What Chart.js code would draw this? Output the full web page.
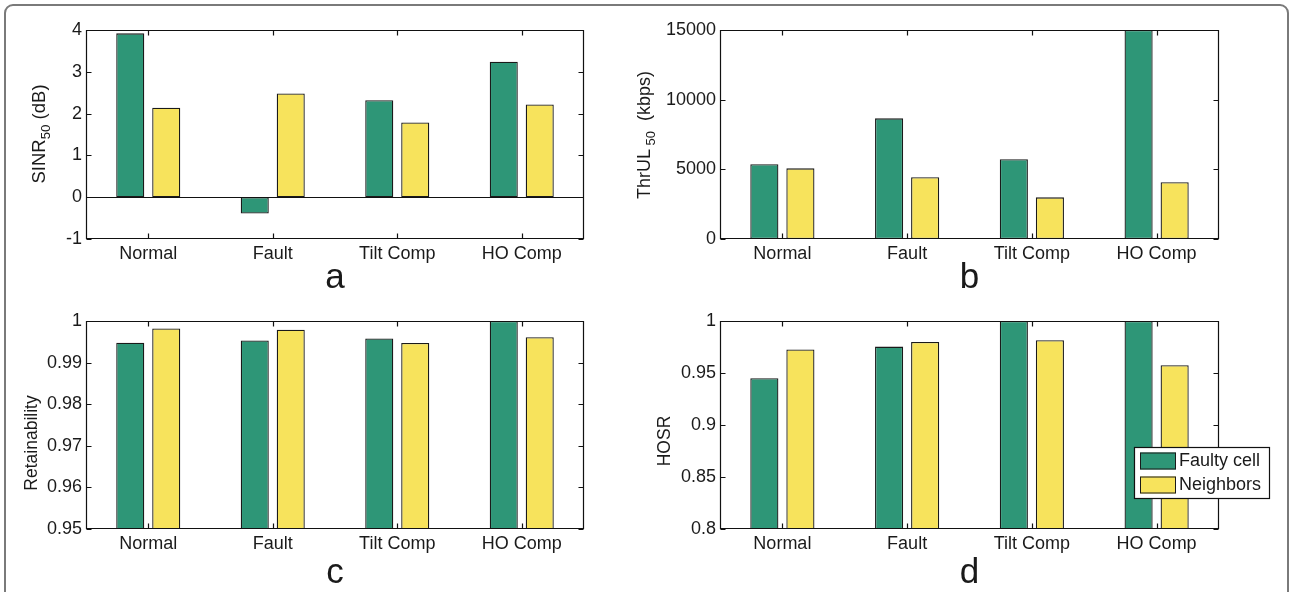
<!DOCTYPE html>
<html>
<head>
<meta charset="utf-8">
<script src="https://cdn.jsdelivr.net/npm/chart.js@4.4.0/dist/chart.umd.min.js"></script>
<style>
  body { margin: 0; background: #fff; width: 1291px; height: 592px; overflow: hidden; position: relative; }
  .frame { position: absolute; left: 4px; top: 4px; width: 1285px; height: 640px; box-sizing: border-box;
           border: 2px solid #7a7a7a; border-radius: 9px; }
  canvas { position: absolute; }
</style>
</head>
<body>
<div class="frame"></div>
<canvas id="chA" width="600" height="300" style="left:0;top:0"></canvas>
<canvas id="chB" width="691" height="300" style="left:600px;top:0"></canvas>
<canvas id="chC" width="600" height="292" style="left:0;top:300px"></canvas>
<canvas id="chD" width="691" height="292" style="left:600px;top:300px"></canvas>
<script>
// data
var categories = ['Normal', 'Fault', 'Tilt Comp', 'HO Comp'];
var seriesNames = ['Faulty cell', 'Neighbors'];

var sinrFaulty    = [3.92, -0.39, 2.32, 3.24];
var sinrNeighbors = [2.14, 2.48, 1.79, 2.22];

var thrFaulty    = [5360, 8660, 5720, 15000];
var thrNeighbors = [5070, 4430, 2990, 4070];

var retFaulty    = [0.9948, 0.9953, 0.9958, 1.0];
var retNeighbors = [0.9982, 0.9979, 0.9947, 0.9961];

var hosrFaulty    = [0.945, 0.9754, 1.0, 1.0];
var hosrNeighbors = [0.9726, 0.9799, 0.9815, 0.9575];

var yTicksA = [-1, 0, 1, 2, 3, 4];
var yLabelsA = ['-1', '0', '1', '2', '3', '4'];
var yTicksB = [0, 5000, 10000, 15000];
var yLabelsB = ['0', '5000', '10000', '15000'];
var yTicksC = [0.95, 0.96, 0.97, 0.98, 0.99, 1];
var yLabelsC = ['0.95', '0.96', '0.97', '0.98', '0.99', '1'];
var yTicksD = [0.8, 0.85, 0.9, 0.95, 1];
var yLabelsD = ['0.8', '0.85', '0.9', '0.95', '1'];

var GREEN = '#2e9677';
var YELLOW = '#f7e35c';
var EDGE = '#1a1a1a';
var INK = '#1a1a1a';
var FONT = '"Liberation Sans", Arial, Helvetica, sans-serif';

// matlab style box with inward ticks
var matlabAxes = {
  id: 'matlabAxes',
  afterDatasetsDraw: function(chart, args, opts) {
    var ctx = chart.ctx, a = chart.chartArea;
    var x = chart.scales.x, y = chart.scales.y;
    var L = Math.round(a.left) + 0.5, R = Math.round(a.right) - 0.5;
    var T = Math.round(a.top) + 0.5, B = Math.round(a.bottom) - 0.5;
    ctx.save();
    ctx.strokeStyle = '#111';
    ctx.lineWidth = 1.2;
    ctx.beginPath();
    ctx.rect(L, T, R - L, B - T);
    var i, p;
    for (i = 0; i < y.ticks.length; i++) {
      p = Math.round(y.getPixelForTick(i)) + 0.5;
      ctx.moveTo(L, p); ctx.lineTo(L + 5, p);
      ctx.moveTo(R, p); ctx.lineTo(R - 5, p);
    }
    for (i = 0; i < x.ticks.length; i++) {
      p = Math.round(x.getPixelForTick(i)) + 0.5;
      ctx.moveTo(p, T); ctx.lineTo(p, T + 5);
      ctx.moveTo(p, B); ctx.lineTo(p, B - 5);
    }
    if (opts.zero) {
      p = Math.round(y.getPixelForValue(0)) + 0.5;
      ctx.moveTo(L, p); ctx.lineTo(R, p);
    }
    ctx.stroke();
    ctx.restore();
  }
};

// rotated y title, with subscripts
var yTitle = {
  id: 'yTitle',
  afterDraw: function(chart, args, opts) {
    if (!opts.parts) return;
    var ctx = chart.ctx;
    var big = opts.size || 17.5, small = big * 0.72;
    ctx.save();
    ctx.fillStyle = INK;
    ctx.textBaseline = 'middle';
    var total = 0;
    opts.parts.forEach(function(pt) {
      ctx.font = (pt[1] ? small : big) + 'px ' + FONT;
      total += ctx.measureText(pt[0]).width;
    });
    ctx.translate(opts.x, opts.y);
    ctx.rotate(-Math.PI / 2);
    var cx = -total / 2;
    opts.parts.forEach(function(pt) {
      ctx.font = (pt[1] ? small : big) + 'px ' + FONT;
      ctx.fillText(pt[0], cx, pt[1] ? 6 : 0);
      cx += ctx.measureText(pt[0]).width;
    });
    ctx.restore();
  }
};

// panel letter under the axis
var panelLetter = {
  id: 'panelLetter',
  afterDraw: function(chart, args, opts) {
    if (!opts.text) return;
    var ctx = chart.ctx, a = chart.chartArea;
    ctx.save();
    ctx.fillStyle = INK;
    ctx.font = '35px ' + FONT;
    ctx.textAlign = 'center';
    ctx.textBaseline = 'alphabetic';
    ctx.fillText(opts.text, (a.left + a.right) / 2, opts.y);
    ctx.restore();
  }
};

// boxed legend
var boxLegend = {
  id: 'boxLegend',
  afterDraw: function(chart, args, opts) {
    if (!opts.show) return;
    var ctx = chart.ctx;
    ctx.save();
    ctx.fillStyle = '#fff';
    ctx.fillRect(opts.x, opts.y, opts.w, opts.h);
    ctx.strokeStyle = '#111';
    ctx.lineWidth = 1.2;
    ctx.strokeRect(opts.x + 0.5, opts.y + 0.5, opts.w, opts.h);
    ctx.font = '18px ' + FONT;
    ctx.textBaseline = 'middle';
    chart.data.datasets.forEach(function(ds, i) {
      var py = opts.y + 5.5 + i * 24;
      ctx.fillStyle = ds.backgroundColor;
      ctx.fillRect(opts.x + 6, py, 36, 17);
      ctx.strokeStyle = EDGE;
      ctx.lineWidth = 1;
      ctx.strokeRect(opts.x + 6.5, py + 0.5, 35, 16);
      ctx.fillStyle = INK;
      ctx.fillText(ds.label, opts.x + 45, py + 9);
    });
    ctx.restore();
  }
};

function makeChart(id, p) {
  return new Chart(document.getElementById(id), {
    type: 'bar',
    data: {
      labels: categories,
      datasets: [
        { label: seriesNames[0], data: p.faulty, backgroundColor: GREEN, borderColor: EDGE, borderWidth: 1.3, borderSkipped: false },
        { label: seriesNames[1], data: p.neighbors, backgroundColor: YELLOW, borderColor: EDGE, borderWidth: 1.3, borderSkipped: false }
      ]
    },
    options: {
      responsive: false,
      animation: false,
      categoryPercentage: 0.578,
      barPercentage: 0.78,
      layout: { padding: { left: 0, top: p.top, right: p.right, bottom: 0 } },
      scales: {
        x: {
          grid: { display: false, drawTicks: false },
          border: { display: false },
          ticks: { color: INK, font: { family: FONT, size: 18 }, padding: 4, maxRotation: 0 },
          afterFit: function(s) { s.height = p.xh; }
        },
        y: {
          min: p.yTicks[0],
          max: p.yTicks[p.yTicks.length - 1],
          grid: { display: false, drawTicks: false },
          border: { display: false },
          afterBuildTicks: function(s) { s.ticks = p.yTicks.map(function(v) { return { value: v }; }); },
          ticks: { color: INK, font: { family: FONT, size: 18 }, padding: 4,
                   callback: function(v, i) { return p.yLabels[i]; } },
          afterFit: function(s) { s.width = p.left; }
        }
      },
      plugins: {
        legend: { display: false },
        tooltip: { enabled: false },
        matlabAxes: { zero: p.zero },
        yTitle: p.title,
        panelLetter: { text: p.letter, y: p.letterY },
        boxLegend: p.legend || { show: false }
      }
    },
    plugins: [matlabAxes, yTitle, panelLetter, boxLegend]
  });
}

makeChart('chA', {
  faulty: sinrFaulty, neighbors: sinrNeighbors, yTicks: yTicksA, yLabels: yLabelsA,
  left: 86, top: 30, right: 16, xh: 61, zero: true,
  title: { parts: [['SINR', 0], ['50', 1], [' (dB)', 0]], x: 40, y: 134, size: 18.5 },
  letter: 'a', letterY: 288
});
makeChart('chB', {
  faulty: thrFaulty, neighbors: thrNeighbors, yTicks: yTicksB, yLabels: yLabelsB,
  left: 120, top: 30, right: 72, xh: 61,
  title: { parts: [['ThrUL', 0], [' 50', 1], ['  (kbps)', 0]], x: 45, y: 135, size: 18 },
  letter: 'b', letterY: 288
});
makeChart('chC', {
  faulty: retFaulty, neighbors: retNeighbors, yTicks: yTicksC, yLabels: yLabelsC,
  left: 86, top: 21, right: 16, xh: 63,
  title: { parts: [['Retainability', 0]], x: 32, y: 143 },
  letter: 'c', letterY: 283
});
makeChart('chD', {
  faulty: hosrFaulty, neighbors: hosrNeighbors, yTicks: yTicksD, yLabels: yLabelsD,
  left: 120, top: 21, right: 72, xh: 63,
  title: { parts: [['HOSR', 0]], x: 65, y: 141 },
  letter: 'd', letterY: 283,
  legend: { show: true, x: 534, y: 147, w: 135, h: 51 }
});
</script>
</body>
</html>
